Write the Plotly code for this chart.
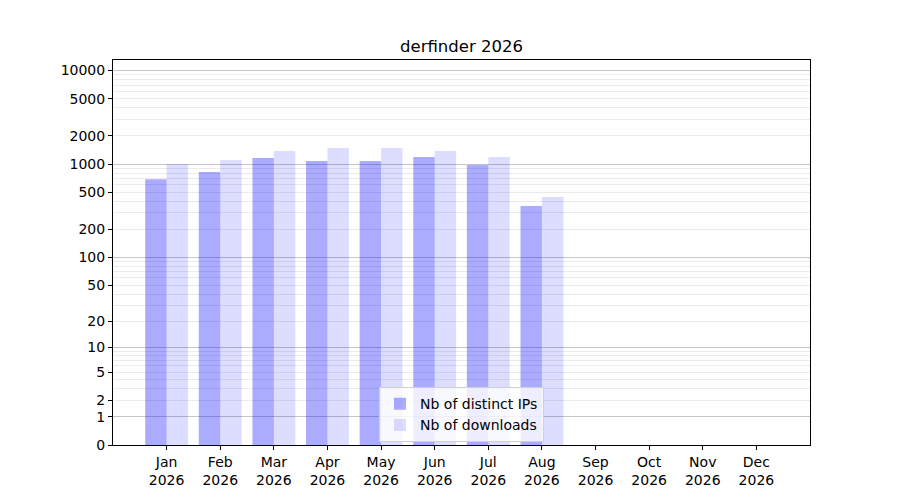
import plotly.graph_objects as go

months = ["Jan", "Feb", "Mar", "Apr", "May", "Jun", "Jul", "Aug", "Sep", "Oct", "Nov", "Dec"]
year = "2026"
distinct_ips = [690, 826, 1165, 1082, 1082, 1194, 980, 357, 0, 0, 0, 0]
downloads = [1000, 1109, 1383, 1490, 1490, 1383, 1194, 446, 0, 0, 0, 0]
ytick_values = [0, 1, 2, 5, 10, 20, 50, 100, 200, 500, 1000, 2000, 5000, 10000]
decades = [1, 10, 100, 1000, 10000]
minor_values = [m * d for d in [1, 10, 100, 1000] for m in range(2, 10)]

x = list(range(1, 13))
xlabels = [f"{m}<br>{year}" for m in months]

font = "DejaVu Sans"
W, H = 892, 492  # page body adds an 8px margin

fig = go.Figure()
fig.add_trace(go.Bar(x=x, y=distinct_ips, base=1, name="Nb of distinct IPs",
                     marker=dict(color="rgba(0,0,255,0.33)", line=dict(width=0))))
fig.add_trace(go.Bar(x=x, y=downloads, base=1, name="Nb of downloads",
                     marker=dict(color="rgba(0,0,255,0.135)", line=dict(width=0))))
fig.add_trace(go.Scatter(x=[], y=[], yaxis="y2", showlegend=False))

yr = [0, 4.113]
fig.update_layout(
    width=W, height=H,
    paper_bgcolor="white", plot_bgcolor="white",
    margin=dict(l=105, r=90, t=52, b=55),
    font=dict(family=font, size=14, color="black"),
    title=dict(text=f"derfinder {year}", x=453.5 / W, xanchor="center",
               y=1 - 38 / H, yanchor="middle", yref="container",
               font=dict(family=font, size=16.5, color="black")),
    barmode="group", bargap=0.2, bargroupgap=0,
    xaxis=dict(range=[0, 13], tickmode="array", tickvals=x, ticktext=xlabels,
               showgrid=False, zeroline=False, showline=True, linecolor="black",
               linewidth=1, mirror=True, ticks="outside", ticklen=4, tickwidth=1,
               tickcolor="black", tickfont=dict(size=14)),
    yaxis=dict(type="log", range=yr, tickmode="array",
               tickvals=[v + 1 for v in ytick_values],
               ticktext=[str(v) for v in ytick_values],
               showgrid=False, zeroline=False, showline=True, linecolor="black",
               linewidth=1, mirror=True, ticks="outside", ticklen=4, tickwidth=1,
               tickcolor="black", tickfont=dict(size=14),
               minor=dict(tickmode="array", tickvals=[v + 1 for v in minor_values],
                          showgrid=True, gridcolor="#ebebeb", gridwidth=1, ticks="")),
    yaxis2=dict(type="log", range=yr, overlaying="y", side="left", tickmode="array",
                tickvals=[v + 1 for v in decades], showticklabels=False, ticks="",
                showgrid=True, gridcolor="rgba(128,128,128,0.45)", gridwidth=1,
                zeroline=False, showline=False),
    legend=dict(x=0.5, xanchor="center", y=0.079, yanchor="middle",
                bgcolor="rgba(255,255,255,0.8)", bordercolor="#d0d0d0", borderwidth=1,
                font=dict(family=font, size=14, color="black"),
                tracegroupgap=0),
    showlegend=True,
)

fig.write_html("out.html")
